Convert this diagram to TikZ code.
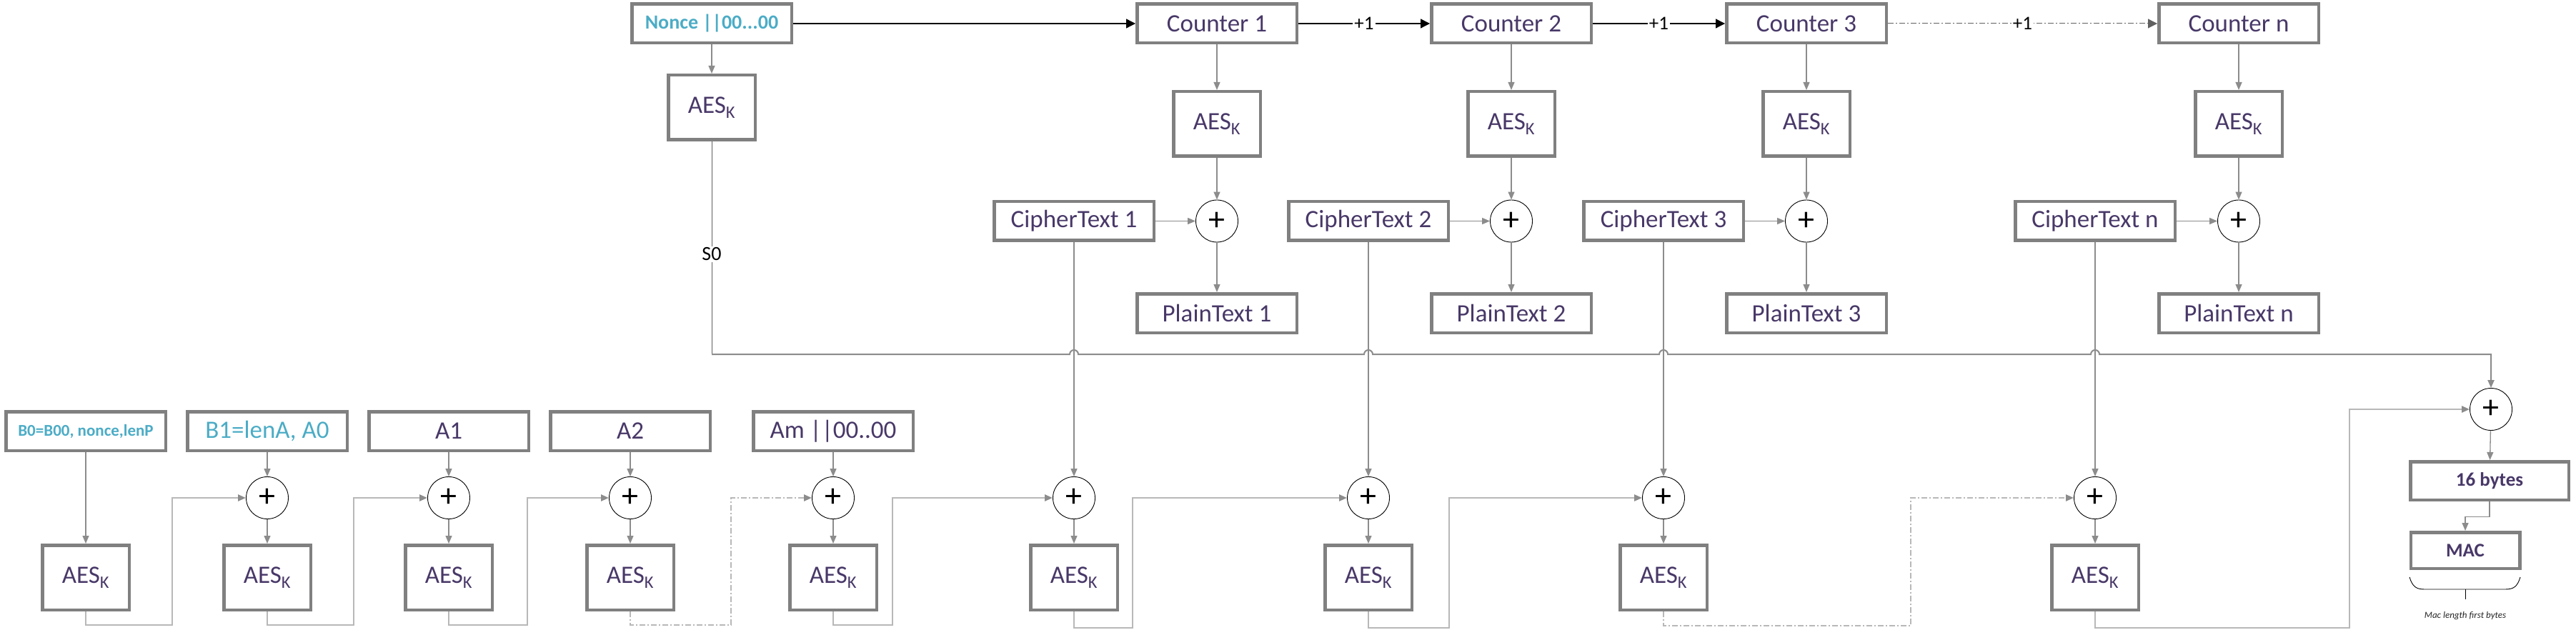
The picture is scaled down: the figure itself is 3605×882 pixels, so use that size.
\documentclass[tikz,border=0pt]{standalone}
\usepackage{fontspec}
\setmainfont{Carlito}
\usetikzlibrary{arrows.meta}
\definecolor{txtp}{RGB}{72,56,104}
\definecolor{cyanT}{RGB}{75,172,198}
\definecolor{bgray}{RGB}{128,128,128}
\definecolor{cgray}{RGB}{140,140,140}
\definecolor{rgray}{RGB}{184,184,184}
\definecolor{dgray}{RGB}{96,96,96}
\begin{document}
\begin{tikzpicture}[x=1pt,y=-1pt,
  box/.style={draw=bgray,line width=4.5pt,fill=white,minimum width=223.5pt,minimum height=54.5pt,inner sep=0pt,text=txtp,font=\fontsize{35}{40}\selectfont},
  aes/.style={box,minimum width=121.5pt,minimum height=90.5pt,font=\fontsize{35}{40}\selectfont},
  xor/.style={circle,draw=black,line width=0.9pt,fill=white,minimum size=59pt,inner sep=0pt,font=\fontsize{46}{46}\selectfont},
  conn/.style={draw=cgray,line width=1.3pt,-{Triangle[length=11pt,width=9pt]}},
  route/.style={draw=rgray,line width=2.4pt,-{Triangle[length=11pt,width=9pt,color=cgray,fill=cgray]}},
  droute/.style={route,dash pattern=on 8pt off 3pt on 2pt off 3pt},
  blk/.style={draw=black,line width=1.3pt,-{Triangle[length=13pt,width=13pt]}},
  lbl/.style={fill=white,inner sep=2pt,text=black,font=\fontsize{27}{30}\selectfont},
]
\useasboundingbox (0,0) rectangle (3605,882);
\fill[white] (0,0) rectangle (3605,882);

% ---- top row ----
\node[box,font=\bfseries\fontsize{28}{32}\selectfont,text=cyanT] (nonce) at (996,33) {Nonce ||00...00};
\node[box] (ctr1) at (1703,33) {Counter 1};
\node[box] (ctr2) at (2115,33) {Counter 2};
\node[box] (ctr3) at (2528,33) {Counter 3};
\node[box] (ctrn) at (3133,33) {Counter n};

\node[aes] (aesN) at (996,150.5) {AES\textsubscript{K}};
\node[aes] (aes1) at (1703,173.5) {AES\textsubscript{K}};
\node[aes] (aes2) at (2115,173.5) {AES\textsubscript{K}};
\node[aes] (aes3) at (2528,173.5) {AES\textsubscript{K}};
\node[aes] (aesn) at (3133,173.5) {AES\textsubscript{K}};

\node[box] (ct1) at (1503,309.5) {CipherText 1};
\node[box] (ct2) at (1915,309.5) {CipherText 2};
\node[box] (ct3) at (2328,309.5) {CipherText 3};
\node[box] (ctn) at (2932,309.5) {CipherText n};

\node[xor] (x1) at (1703,309.5) {+};
\node[xor] (x2) at (2115,309.5) {+};
\node[xor] (x3) at (2528,309.5) {+};
\node[xor] (xn) at (3133,309.5) {+};

\node[box] (pt1) at (1703,438.5) {PlainText 1};
\node[box] (pt2) at (2115,438.5) {PlainText 2};
\node[box] (pt3) at (2528,438.5) {PlainText 3};
\node[box] (ptn) at (3133,438.5) {PlainText n};

% ---- bottom row ----
\node[box,font=\bfseries\fontsize{23}{26}\selectfont,text=cyanT] (b0) at (120,603.5) {B0=B00, nonce,lenP};
\node[box,text=cyanT] (b1) at (374,603.5) {B1=lenA, A0};
\node[box] (a1) at (628,603.5) {A1};
\node[box] (a2) at (882,603.5) {A2};
\node[box] (am) at (1166,603.5) {Am ||00..00};

\node[xor] (bx1) at (374,697) {+};
\node[xor] (bx2) at (628,697) {+};
\node[xor] (bx3) at (882,697) {+};
\node[xor] (bx4) at (1166,697) {+};
\node[xor] (bx5) at (1503,697) {+};
\node[xor] (bx6) at (1915,697) {+};
\node[xor] (bx7) at (2328,697) {+};
\node[xor] (bx8) at (2932,697) {+};

\node[aes] (baes0) at (120,808.5) {AES\textsubscript{K}};
\node[aes] (baes1) at (374,808.5) {AES\textsubscript{K}};
\node[aes] (baes2) at (628,808.5) {AES\textsubscript{K}};
\node[aes] (baes3) at (882,808.5) {AES\textsubscript{K}};
\node[aes] (baes4) at (1166,808.5) {AES\textsubscript{K}};
\node[aes] (baes5) at (1503,808.5) {AES\textsubscript{K}};
\node[aes] (baes6) at (1915,808.5) {AES\textsubscript{K}};
\node[aes] (baes7) at (2328,808.5) {AES\textsubscript{K}};
\node[aes] (baes8) at (2932,808.5) {AES\textsubscript{K}};

\node[xor] (fx) at (3486,573) {+};
\node[box,minimum width=221.5pt,minimum height=53.5pt,font=\bfseries\fontsize{27}{30}\selectfont] (by) at (3484,673) {16 bytes};
\node[box,minimum width=152.5pt,minimum height=50.5pt,font=\bfseries\fontsize{27}{30}\selectfont] (mac) at (3450,770.5) {MAC};
\node[text=black!85,font=\itshape\fontsize{13}{15}\selectfont] (macnote) at (3450,862) {Mac length first bytes};

% ---- counter chain ----
\draw[blk] (nonce) -- (ctr1);
\draw[blk] (ctr1) -- node[lbl]{+1} (ctr2);
\draw[blk] (ctr2) -- node[lbl]{+1} (ctr3);
\draw[blk,draw=dgray,line width=1pt,dash pattern=on 8pt off 3pt on 2pt off 3pt] (ctr3) -- node[lbl]{+1} (ctrn);

% ---- top columns ----
\draw[conn] (nonce) -- (aesN);
\foreach \i in {1,2,3,n}{
  \draw[conn] (ctr\i) -- (aes\i);
  \draw[conn] (aes\i) -- (x\i);
  \draw[conn] (ct\i) -- (x\i);
  \draw[conn] (x\i) -- (pt\i);
}

% ---- S0 line ----
\coordinate (s0c) at (996,496);
\coordinate (s0e) at (3486,496);
\draw[line width=1pt,draw=dgray] (aesN.south) -- node[pos=0.53,fill=white,inner sep=2pt,text=black,font=\fontsize{28}{30}\selectfont]{S0} (s0c);
\draw[line width=2pt,draw=cgray,-{Triangle[length=11pt,width=9pt]}] (s0c) -- (1497,496) arc[start angle=180,end angle=360,radius=6]
  -- (1909,496) arc[start angle=180,end angle=360,radius=6]
  -- (2322,496) arc[start angle=180,end angle=360,radius=6]
  -- (2926,496) arc[start angle=180,end angle=360,radius=6]
  -- (s0e) -- (fx.north);

% ---- ciphertext to bottom ----
\draw[conn] (ct1) -- (bx5);
\draw[conn] (ct2) -- (bx6);
\draw[conn] (ct3) -- (bx7);
\draw[conn] (ctn) -- (bx8);

% ---- bottom columns ----
\draw[conn] (b0) -- (baes0);
\draw[conn] (b1) -- (bx1);
\draw[conn] (a1) -- (bx2);
\draw[conn] (a2) -- (bx3);
\draw[conn] (am) -- (bx4);
\foreach \i in {1,...,8}{
  \draw[conn] (bx\i) -- (baes\i);
}

% ---- chaining ----
\draw[route] (baes0.south) |- (241,875) |- (bx1.west);
\draw[route] (baes1.south) |- (495,875) |- (bx2.west);
\draw[route] (baes2.south) |- (738,875) |- (bx3.west);
\draw[droute] (baes3.south) |- (1023,875) |- (bx4.west);
\draw[route] (baes4.south) |- (1249,875) |- (bx5.west);
\draw[route] (baes5.south) |- (1585,879) |- (bx6.west);
\draw[route] (baes6.south) |- (2028,879) |- (bx7.west);
\draw[droute] (baes7.south) |- (2674,876) |- (bx8.west);
\draw[route] (baes8.south) |- (3288,879) |- (fx.west);

% ---- output ----
\draw[conn] (fx) -- (by);
\draw[conn] (by.south) -- ++(0,21.5) -| (mac.north);
\coordinate (brl) at (3372,808);
\coordinate (brr) at (3527,808);
\coordinate (brm) at (3450,825);
\draw[line width=0.9pt] (brl) .. controls (3376,821) and (3381,825) .. (3393,825) -- (3506,825) .. controls (3518,825) and (3523,821) .. (brr);
\draw[line width=0.9pt] (brm) -- (3450,839);
\end{tikzpicture}
\end{document}
